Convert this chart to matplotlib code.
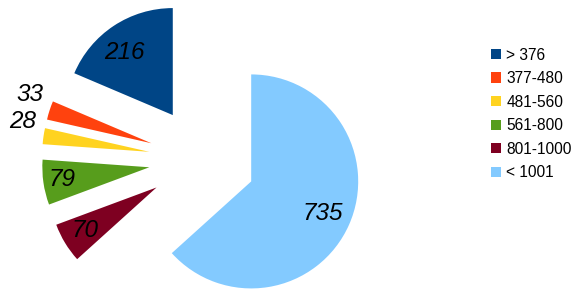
import numpy as np
import matplotlib.pyplot as plt

categories = ["> 376", "377-480", "481-560", "561-800", "801-1000", "< 1001"]
values = [216, 33, 28, 79, 70, 735]
colors = ["#004586", "#ff420e", "#ffd320", "#579d1c", "#7e0021", "#83caff"]
# label placement relative to each exploded wedge (distance in radii, angle shift in deg)
label_dist = [0.74, 1.22, 1.22, 0.82, 0.78, 0.73]
label_shift = [4, -4, -5, 0, 0, 0]

W, H, DPI = 575, 289, 100
R = 107.0
cx, cy = 202.3, 159.7

fig = plt.figure(figsize=(W / DPI, H / DPI), dpi=DPI)
ax = fig.add_axes([0, 0, 1, 1])

wedges, _ = ax.pie(values, colors=colors, startangle=90, counterclock=True,
                   explode=[0.5] * len(values), radius=1,
                   wedgeprops=dict(linewidth=0))

for w, val, d, s in zip(wedges, values, label_dist, label_shift):
    mid = np.deg2rad((w.theta1 + w.theta2) / 2 + s)
    x0, y0 = w.center
    ax.text(x0 + d * w.r * np.cos(mid), y0 + d * w.r * np.sin(mid), str(val),
            ha="center", va="center", fontsize=17.5, style="italic",
            family="Liberation Sans", color="black")

ax.set_xlim(-cx / R, (W - cx) / R)
ax.set_ylim(-(H - cy) / R, cy / R)
ax.set_aspect("auto")
ax.axis("off")

fig.legend(wedges, categories, loc="upper left",
           bbox_to_anchor=(490.7 / W, 1 - 47.5 / H),
           frameon=False, borderpad=0, borderaxespad=0,
           prop=dict(family="Liberation Sans", size=11.2),
           handlelength=0.65, handleheight=0.65, handletextpad=0.35,
           labelspacing=0.55)

fig.savefig("out.png", dpi=DPI)
